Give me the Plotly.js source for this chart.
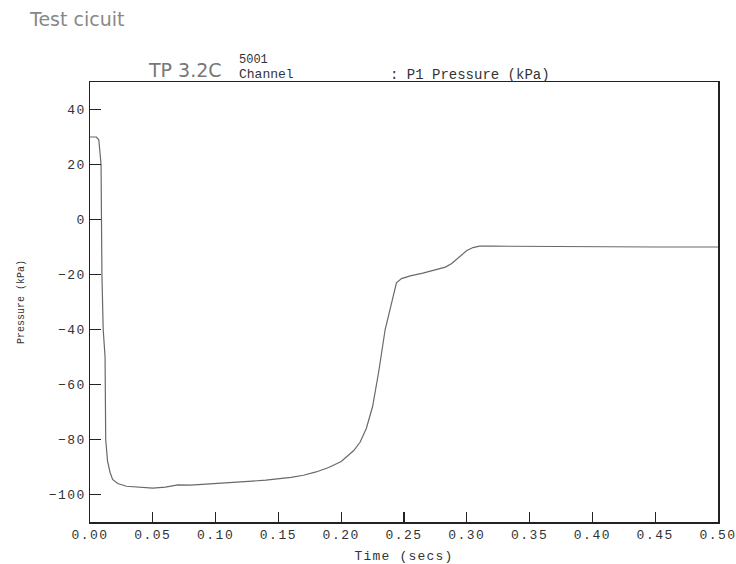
<!DOCTYPE html>
<html>
<head>
<meta charset="utf-8">
<script src="https://cdn.plot.ly/plotly-3.0.1.min.js"></script>
<style>
html,body{margin:0;padding:0;background:#fff;}
#chart{width:736px;height:564px;}
#chart .xtick text, #chart .ytick text {letter-spacing: 1.5px;}
#chart .g-xtitle text {letter-spacing: 1.2px;}
</style>
</head>
<body>
<div id="chart"></div>
<script>
// Time (secs)
const timeSecs = [0, 0.002, 0.005, 0.007, 0.008, 0.0088, 0.0095, 0.0105, 0.012, 0.0125, 0.014, 0.016, 0.018, 0.022, 0.029, 0.04, 0.05, 0.06, 0.07, 0.08, 0.10, 0.12, 0.14, 0.16, 0.17, 0.18, 0.19, 0.20, 0.21, 0.215, 0.22, 0.225, 0.23, 0.235, 0.24, 0.244, 0.248, 0.255, 0.265, 0.275, 0.283, 0.288, 0.292, 0.296, 0.30, 0.305, 0.31, 0.32, 0.35, 0.40, 0.45, 0.50];
// P1 Pressure (kPa)
const pressureKPa = [30, 30, 30, 29, 25, 20, -20, -40, -50, -80, -88, -92, -94.5, -96, -97, -97.5, -97.7, -97.3, -96.5, -96.6, -96, -95.5, -94.8, -93.8, -93, -91.8, -90.2, -88, -84, -81, -76, -68, -55, -40, -30, -23, -21.5, -20.5, -19.5, -18.3, -17.3, -16, -14.5, -12.8, -11.3, -10.2, -9.7, -9.7, -9.8, -9.9, -10, -10];
const xTickVals = [0, 0.05, 0.10, 0.15, 0.20, 0.25, 0.30, 0.35, 0.40, 0.45, 0.50];
const xTickText = ['0.00','0.05','0.10','0.15','0.20','0.25','0.30','0.35','0.40','0.45','0.50'];
const yTickVals = [40, 20, 0, -20, -40, -60, -80, -100];

const mono = 'Liberation Mono, Courier New, monospace';

const trace = {
  x: timeSecs, y: pressureKPa, type: 'scatter', mode: 'lines',
  line: {color: 'rgb(105,105,105)', width: 1.2},
  hoverinfo: 'skip', showlegend: false
};

const layout = {
  width: 736, height: 564,
  margin: {l: 90, r: 18, t: 82, b: 42},
  paper_bgcolor: '#fff', plot_bgcolor: '#fff',
  font: {family: mono, color: '#222'},
  xaxis: {
    range: [0, 0.5], tickvals: xTickVals, ticktext: xTickText,
    ticks: 'inside', ticklen: 10, tickwidth: 1.2, tickcolor: '#222',
    showline: true, linecolor: '#222', linewidth: 1.5, mirror: true,
    showgrid: false, zeroline: false,
    tickfont: {family: mono, size: 13, color: '#333'},
    title: {text: 'Time (secs)', font: {family: mono, size: 13, color: '#333'}, standoff: 12}
  },
  yaxis: {
    range: [-110, 50], tickvals: yTickVals,
    ticks: 'inside', ticklen: 11, tickwidth: 1.2, tickcolor: '#222',
    showline: true, linecolor: '#222', linewidth: 1.5, mirror: true,
    showgrid: false, zeroline: false,
    tickfont: {family: mono, size: 13, color: '#333'},
    title: {text: 'Pressure (kPa)', font: {family: mono, size: 10, color: '#333'}, standoff: 28}
  },
  annotations: [
    {text: 'Test cicuit', xref: 'paper', yref: 'paper', x: -0.1, y: 1.143, xanchor: 'left', yanchor: 'middle', showarrow: false,
     font: {family: 'DejaVu Sans', size: 19, color: '#888'}},
    {text: 'TP 3.2C', xref: 'paper', yref: 'paper', x: 0.152, y: 1.027, xanchor: 'center', yanchor: 'middle', showarrow: false,
     font: {family: 'DejaVu Sans', size: 19, color: '#777'}},
    {text: '5001', xref: 'paper', yref: 'paper', x: 0.234, y: 1.05, xanchor: 'left', yanchor: 'middle', showarrow: false,
     font: {family: mono, size: 12, color: '#333'}},
    {text: 'Channel', xref: 'paper', yref: 'paper', x: 0.234, y: 1.017, xanchor: 'left', yanchor: 'middle', showarrow: false,
     font: {family: mono, size: 13, color: '#333'}},
    {text: ': P1 Pressure (kPa)', xref: 'paper', yref: 'paper', x: 0.474, y: 1.017, xanchor: 'left', yanchor: 'middle', showarrow: false,
     font: {family: mono, size: 14, color: '#333'}}
  ]
};

Plotly.newPlot('chart', [trace], layout, {staticPlot: true, displayModeBar: false});
</script>
</body>
</html>
